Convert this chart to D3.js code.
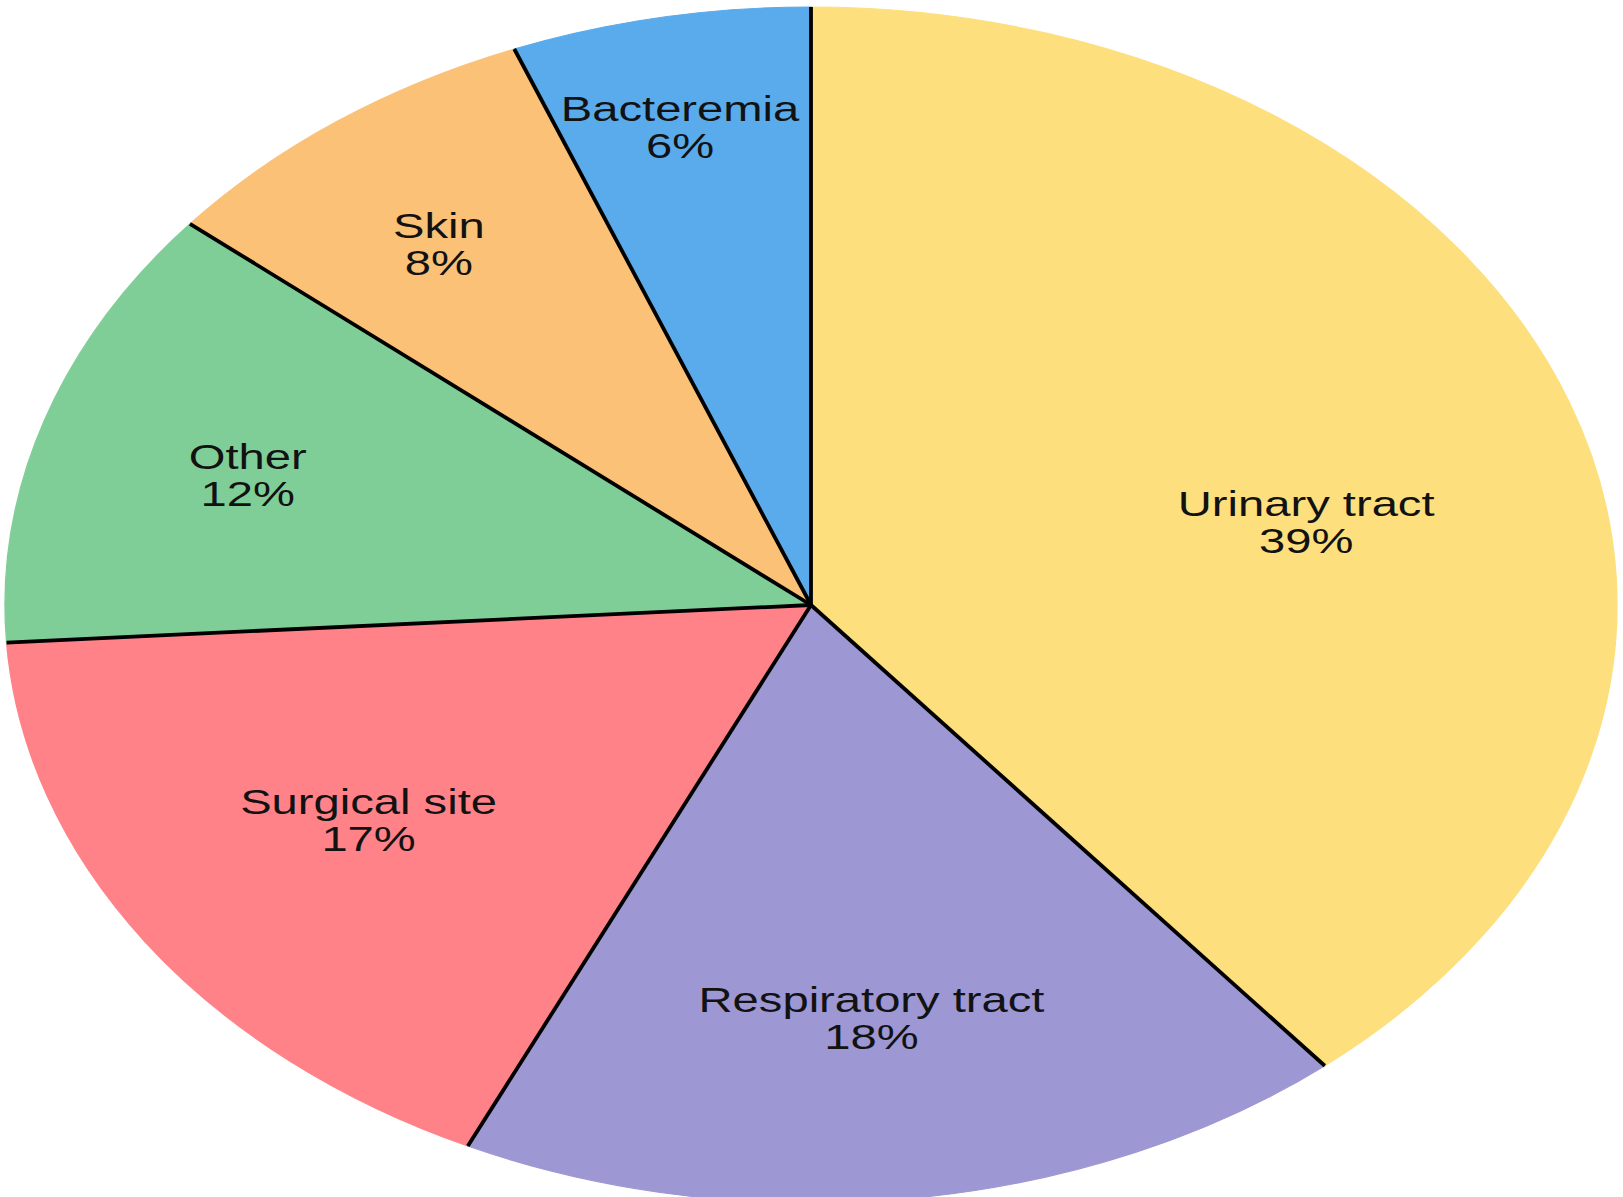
<!DOCTYPE html>
<html>
<head>
<meta charset="utf-8">
<script src="https://cdn.jsdelivr.net/npm/d3@7"></script>
<style>
  body { margin: 0; background: #fff; }
  svg { display: block; }
</style>
</head>
<body>
<div id="vis"></div>
<script>
// Chart data, clockwise from 12 o'clock
var categories = ['Urinary tract', 'Respiratory tract', 'Surgical site', 'Other', 'Skin', 'Bacteremia'];
var shares = [39, 18, 17, 12, 8, 6];
var sliceColors = ['#fddf7e', '#9d97d3', '#ff8288', '#80ce97', '#fbc177', '#5aabec'];

// label placement (fraction of radius, small angle nudge in degrees)
var labelRadius = [0.63, 0.695, 0.656, 0.732, 0.76, 0.815];
var labelNudge = [7, 1, 1, -0.7, -1.4, -0.7];

var width = 1623;
var height = 1197;

// the pie is drawn as a circle and stretched into an ellipse
var center = { x: 811, y: 605 };
var ry = 598;
var rx = 806;

var svg = d3.select('#vis')
  .append('svg')
  .attr('width', width)
  .attr('height', height);

var data = categories.map(function (c, i) {
  return { name: c, value: shares[i], color: sliceColors[i], lr: labelRadius[i], nudge: labelNudge[i] };
});

var pie = d3.pie()
  .sort(null)
  .value(function (d) { return d.value; });

var arcs = pie(data);

var arc = d3.arc()
  .innerRadius(0)
  .outerRadius(ry);

var g = svg.append('g')
  .attr('transform', 'translate(' + center.x + ',' + center.y + ') scale(' + (rx / ry) + ',1)');

// slices, no outline on the rim
g.selectAll('.slice')
  .data(arcs)
  .enter().append('path')
  .attr('class', 'slice')
  .attr('d', arc)
  .attr('fill', function (d) { return d.data.color; })
  .attr('stroke', function (d) { return d.data.color; })
  .attr('stroke-width', 1);

// black separators between slices
g.selectAll('.sep')
  .data(arcs)
  .enter().append('line')
  .attr('class', 'sep')
  .attr('x1', 0)
  .attr('y1', 0)
  .attr('x2', function (d) { return d3.pointRadial(d.startAngle, ry)[0]; })
  .attr('y2', function (d) { return d3.pointRadial(d.startAngle, ry)[1]; })
  .attr('stroke', '#000')
  .attr('stroke-width', 3.8)
  .attr('stroke-linecap', 'butt')
  .attr('vector-effect', 'non-scaling-stroke');

// labels: name and percentage
var labels = g.selectAll('.label')
  .data(arcs)
  .enter().append('text')
  .attr('class', 'label')
  .attr('text-anchor', 'middle')
  .attr('font-family', '"Liberation Sans", Arial, Helvetica, sans-serif')
  .attr('font-size', 35)
  .attr('fill', '#121212')
  .attr('transform', function (d) {
    var a = (d.startAngle + d.endAngle) / 2 + d.data.nudge * Math.PI / 180;
    var p = d3.pointRadial(a, ry * d.data.lr);
    return 'translate(' + p[0] + ',' + p[1] + ')';
  });

labels.append('tspan')
  .attr('x', 0)
  .attr('y', -6)
  .text(function (d) { return d.data.name; });

labels.append('tspan')
  .attr('x', 0)
  .attr('y', 31)
  .text(function (d) { return d.data.value + '%'; });
</script>
</body>
</html>
